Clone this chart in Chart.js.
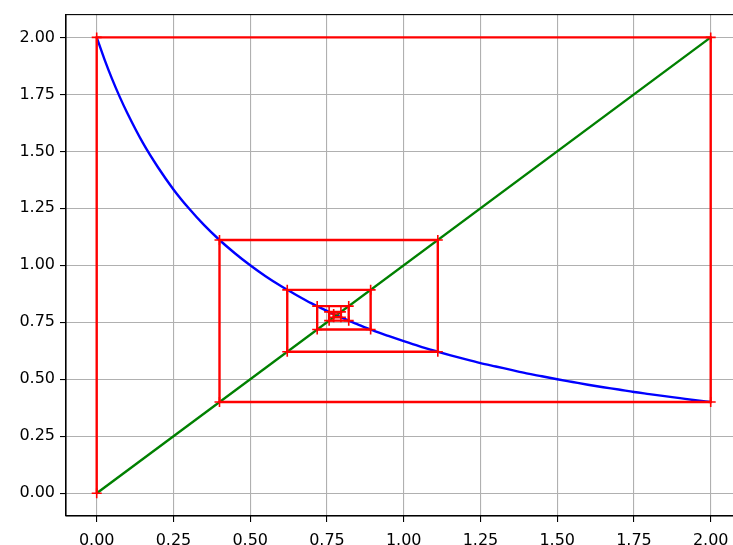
<!DOCTYPE html>
<html>
<head>
<meta charset="utf-8">
<script src="https://cdn.jsdelivr.net/npm/chart.js@4"></script>
<style>
  html, body { margin: 0; padding: 0; background: #fff; overflow: hidden; }
  #wrap { width: 733px; height: 545px; overflow: hidden; }
  canvas { display: block; }
</style>
</head>
<body>
<div id="wrap"><canvas id="grafico" width="748" height="545" style="width:748px;height:545px"></canvas></div>
<script>
// curve y = f(x)
const curveX = [0, 0.025, 0.05, 0.075, 0.1, 0.15, 0.2, 0.25, 0.3, 0.35, 0.4, 0.45, 0.5, 0.55, 0.6, 0.65, 0.7, 0.75, 0.8, 0.85, 0.9, 0.95,
  1.0, 1.05, 1.1, 1.15, 1.2, 1.25, 1.3, 1.35, 1.4, 1.45, 1.5, 1.55, 1.6, 1.65, 1.7, 1.75, 1.8, 1.85, 1.9, 1.95, 2.0];
const curveY = [2.0, 1.905, 1.818, 1.739, 1.667, 1.538, 1.429, 1.333, 1.25, 1.176, 1.111, 1.053, 1.0, 0.952, 0.909, 0.870, 0.833, 0.8, 0.769, 0.741, 0.714, 0.690,
  0.667, 0.645, 0.625, 0.606, 0.588, 0.571, 0.556, 0.541, 0.526, 0.513, 0.5, 0.488, 0.476, 0.465, 0.455, 0.444, 0.435, 0.426, 0.417, 0.408, 0.4];

// diagonal y = x
const diagX = [0, 2];
const diagY = [0, 2];

// cobweb orbit x0, x1, x2, ...
const orbit = [0, 2, 0.4, 1.1111, 0.6207, 0.8923, 0.7182, 0.8209, 0.7571, 0.7955, 0.7719, 0.7862];

const xTicks = [0, 0.25, 0.5, 0.75, 1.0, 1.25, 1.5, 1.75, 2.0];
const yTicks = [0, 0.25, 0.5, 0.75, 1.0, 1.25, 1.5, 1.75, 2.0];

function zipPoints(xs, ys) {
  return xs.map((x, i) => ({ x: x, y: ys[i] }));
}

function cobwebPoints(o) {
  const pts = [];
  for (let i = 0; i < o.length - 1; i++) {
    pts.push({ x: o[i], y: o[i] });
    pts.push({ x: o[i], y: o[i + 1] });
  }
  return pts;
}

const framePlugin = {
  id: "frame",
  afterDraw(chart) {
    const a = chart.chartArea;
    const ctx = chart.ctx;
    ctx.save();
    ctx.strokeStyle = "#000";
    ctx.lineWidth = 1.1;
    ctx.strokeRect(a.left, a.top, a.right - a.left, a.bottom - a.top);
    ctx.restore();
  }
};

const tickFont = { family: "DejaVu Sans", size: 16 };

new Chart(document.getElementById("grafico"), {
  type: "scatter",
  data: {
    datasets: [
      {
        data: cobwebPoints(orbit),
        showLine: true,
        borderColor: "#ff0000",
        borderWidth: 2.4,
        pointStyle: "cross",
        pointRadius: 5,
        pointBorderColor: "#ff0000",
        pointBorderWidth: 1.6,
        order: 0,
      },
      {
        data: zipPoints(diagX, diagY),
        showLine: true,
        borderColor: "#008000",
        borderWidth: 2.4,
        pointRadius: 0,
        order: 1,
      },
      {
        data: zipPoints(curveX, curveY),
        showLine: true,
        borderColor: "#0000ff",
        borderWidth: 2.4,
        pointRadius: 0,
        cubicInterpolationMode: "monotone",
        order: 2,
      },
    ],
  },
  options: {
    responsive: false,
    animation: false,
    layout: { padding: { top: 14, left: 0, right: 0, bottom: 0 } },
    plugins: { legend: { display: false }, tooltip: { enabled: false } },
    scales: {
      x: {
        type: "linear",
        min: -0.1,
        max: 2.1,
        afterBuildTicks: (s) => { s.ticks = xTicks.map((v) => ({ value: v })); },
        afterFit: (s) => { s.height = 29; },
        grid: { color: "#b0b0b0", lineWidth: 1.1, tickColor: "#000", tickLength: 6 },
        border: { color: "#000", width: 1.1 },
        ticks: { color: "#000", font: tickFont, padding: 9, maxRotation: 0, callback: (v) => v.toFixed(2) },
      },
      y: {
        type: "linear",
        min: -0.1,
        max: 2.1,
        afterBuildTicks: (s) => { s.ticks = yTicks.map((v) => ({ value: v })); },
        afterFit: (s) => { s.width = 66; },
        grid: { color: "#b0b0b0", lineWidth: 1.1, tickColor: "#000", tickLength: 6 },
        border: { color: "#000", width: 1.1 },
        ticks: { color: "#000", font: tickFont, padding: 5, callback: (v) => v.toFixed(2) },
      },
    },
  },
  plugins: [framePlugin],
});
</script>
</body>
</html>
